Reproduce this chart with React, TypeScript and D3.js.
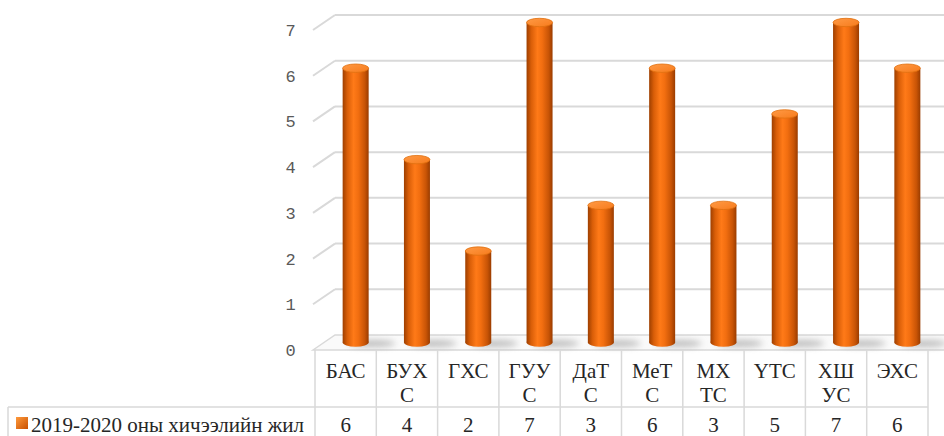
import React from "react";
import * as d3 from "d3";

const categories: string[][] = [
  ["БАС"], ["БУХ", "С"], ["ГХС"], ["ГУУ", "С"], ["ДаТ", "С"],
  ["МеТ", "С"], ["МХ", "ТС"], ["ҮТС"], ["ХШ", "УС"], ["ЭХС"],
];
const values: number[] = [6, 4, 2, 7, 3, 6, 3, 5, 7, 6];
const seriesName = "2019-2020 оны хичээлийн жил";
const yTicks: number[] = [0, 1, 2, 3, 4, 5, 6, 7];

const W = 944;
const H = 436;
const DX = 22;
const DY = -15;
const GRID = "#d9d9d9";

export default function App() {
  const y = d3.scaleLinear().domain([0, 7]).range([350, 30]);
  const x = d3
    .scaleBand<number>()
    .domain(categories.map((_, i) => i))
    .range([315, 928]);
  const bw = x.bandwidth();
  const barW = 26;
  const ry = 4.2;
  const mdx = 10;
  const mdy = -7.5;
  const serif = "'Liberation Serif', 'Times New Roman', serif";

  return (
    <svg
      width={W}
      height={H}
      style={{ position: "absolute", left: 0, top: 0, background: "#fff" }}
    >
      <defs>
        <linearGradient id="cyl" x1="0" x2="1" y1="0" y2="0">
          <stop offset="0%" stopColor="#9e3f00" />
          <stop offset="18%" stopColor="#d95e08" />
          <stop offset="42%" stopColor="#ff7a18" />
          <stop offset="60%" stopColor="#f26e10" />
          <stop offset="85%" stopColor="#c85406" />
          <stop offset="100%" stopColor="#9a3c00" />
        </linearGradient>
        <linearGradient id="cylTop" x1="0" x2="1" y1="0" y2="1">
          <stop offset="0%" stopColor="#ff9a45" />
          <stop offset="100%" stopColor="#f77b1c" />
        </linearGradient>
        <linearGradient id="mark" x1="0" x2="1" y1="0" y2="1">
          <stop offset="0%" stopColor="#ff9a3c" />
          <stop offset="100%" stopColor="#c85000" />
        </linearGradient>
        <filter id="blur" x="-50%" y="-200%" width="200%" height="500%">
          <feGaussianBlur stdDeviation="3" />
        </filter>
      </defs>

      {/* floor */}
      <polygon
        points={`313,${y(0)} ${313 + DX},${y(0) + DY} ${W + 20},${y(0) + DY} ${W + 20},${y(0)}`}
        fill="#fafafa"
        stroke={GRID}
        strokeWidth={1.5}
      />

      {/* gridlines */}
      {yTicks.map((t) =>
        t === 0 ? null : (
          <g key={t}>
            <line
              x1={313}
              y1={y(t)}
              x2={313 + DX}
              y2={y(t) + DY}
              stroke={GRID}
              strokeWidth={2}
            />
            <line
              x1={313 + DX}
              y1={y(t) + DY}
              x2={W}
              y2={y(t) + DY}
              stroke={GRID}
              strokeWidth={2}
            />
          </g>
        )
      )}

      {/* tick labels */}
      {yTicks.map((t) => (
        <text
          key={t}
          x={290.5}
          y={y(t) + 6}
          textAnchor="middle"
          fontFamily="'Liberation Mono', 'Courier New', monospace"
          fontSize={17}
          fill="#595959"
        >
          {t}
        </text>
      ))}

      {/* shadows */}
      {values.map((v, i) => {
        const cx = (x(i) as number) + bw / 2 + mdx;
        return (
          <ellipse
            key={i}
            cx={cx + 16}
            cy={y(0) + mdy + 1}
            rx={24}
            ry={3.5}
            fill="#8c8c8c"
            opacity={0.55}
            filter="url(#blur)"
          />
        );
      })}

      {/* bars */}
      {values.map((v, i) => {
        const cx = (x(i) as number) + bw / 2 + mdx;
        const yb = y(0) + mdy;
        const yt = y(v) + mdy;
        return (
          <g key={i}>
            <ellipse cx={cx} cy={yb} rx={barW / 2} ry={ry} fill="url(#cyl)" />
            <rect
              x={cx - barW / 2}
              y={yt}
              width={barW}
              height={yb - yt}
              fill="url(#cyl)"
            />
            <ellipse
              cx={cx}
              cy={yt}
              rx={barW / 2}
              ry={ry}
              fill="url(#cylTop)"
              stroke="#e0700f"
              strokeWidth={0.8}
            />
          </g>
        );
      })}

      {/* data table */}
      <g stroke={GRID} strokeWidth={1.5}>
        {categories.map((_, i) => (
          <line
            key={i}
            x1={x(i) as number}
            y1={y(0)}
            x2={x(i) as number}
            y2={H}
          />
        ))}
        <line x1={928} y1={y(0)} x2={928} y2={H} />
        <line x1={8} y1={407} x2={928} y2={407} />
        <line x1={8} y1={407} x2={8} y2={H} />
      </g>

      {categories.map((lines, i) => {
        const cx = (x(i) as number) + bw / 2;
        return (
          <g key={i}>
            {lines.map((ln, j) => (
              <text
                key={j}
                x={cx}
                y={378 + j * 24}
                textAnchor="middle"
                fontFamily={serif}
                fontSize={21}
                fill="#262626"
              >
                {ln}
              </text>
            ))}
            <text
              x={cx}
              y={432}
              textAnchor="middle"
              fontFamily={serif}
              fontSize={21}
              fill="#262626"
            >
              {values[i]}
            </text>
          </g>
        );
      })}

      <rect x={16} y={417} width={12} height={12} fill="url(#mark)" />
      <text x={31} y={432} fontFamily={serif} fontSize={21} fill="#262626">
        {seriesName}
      </text>
    </svg>
  );
}
